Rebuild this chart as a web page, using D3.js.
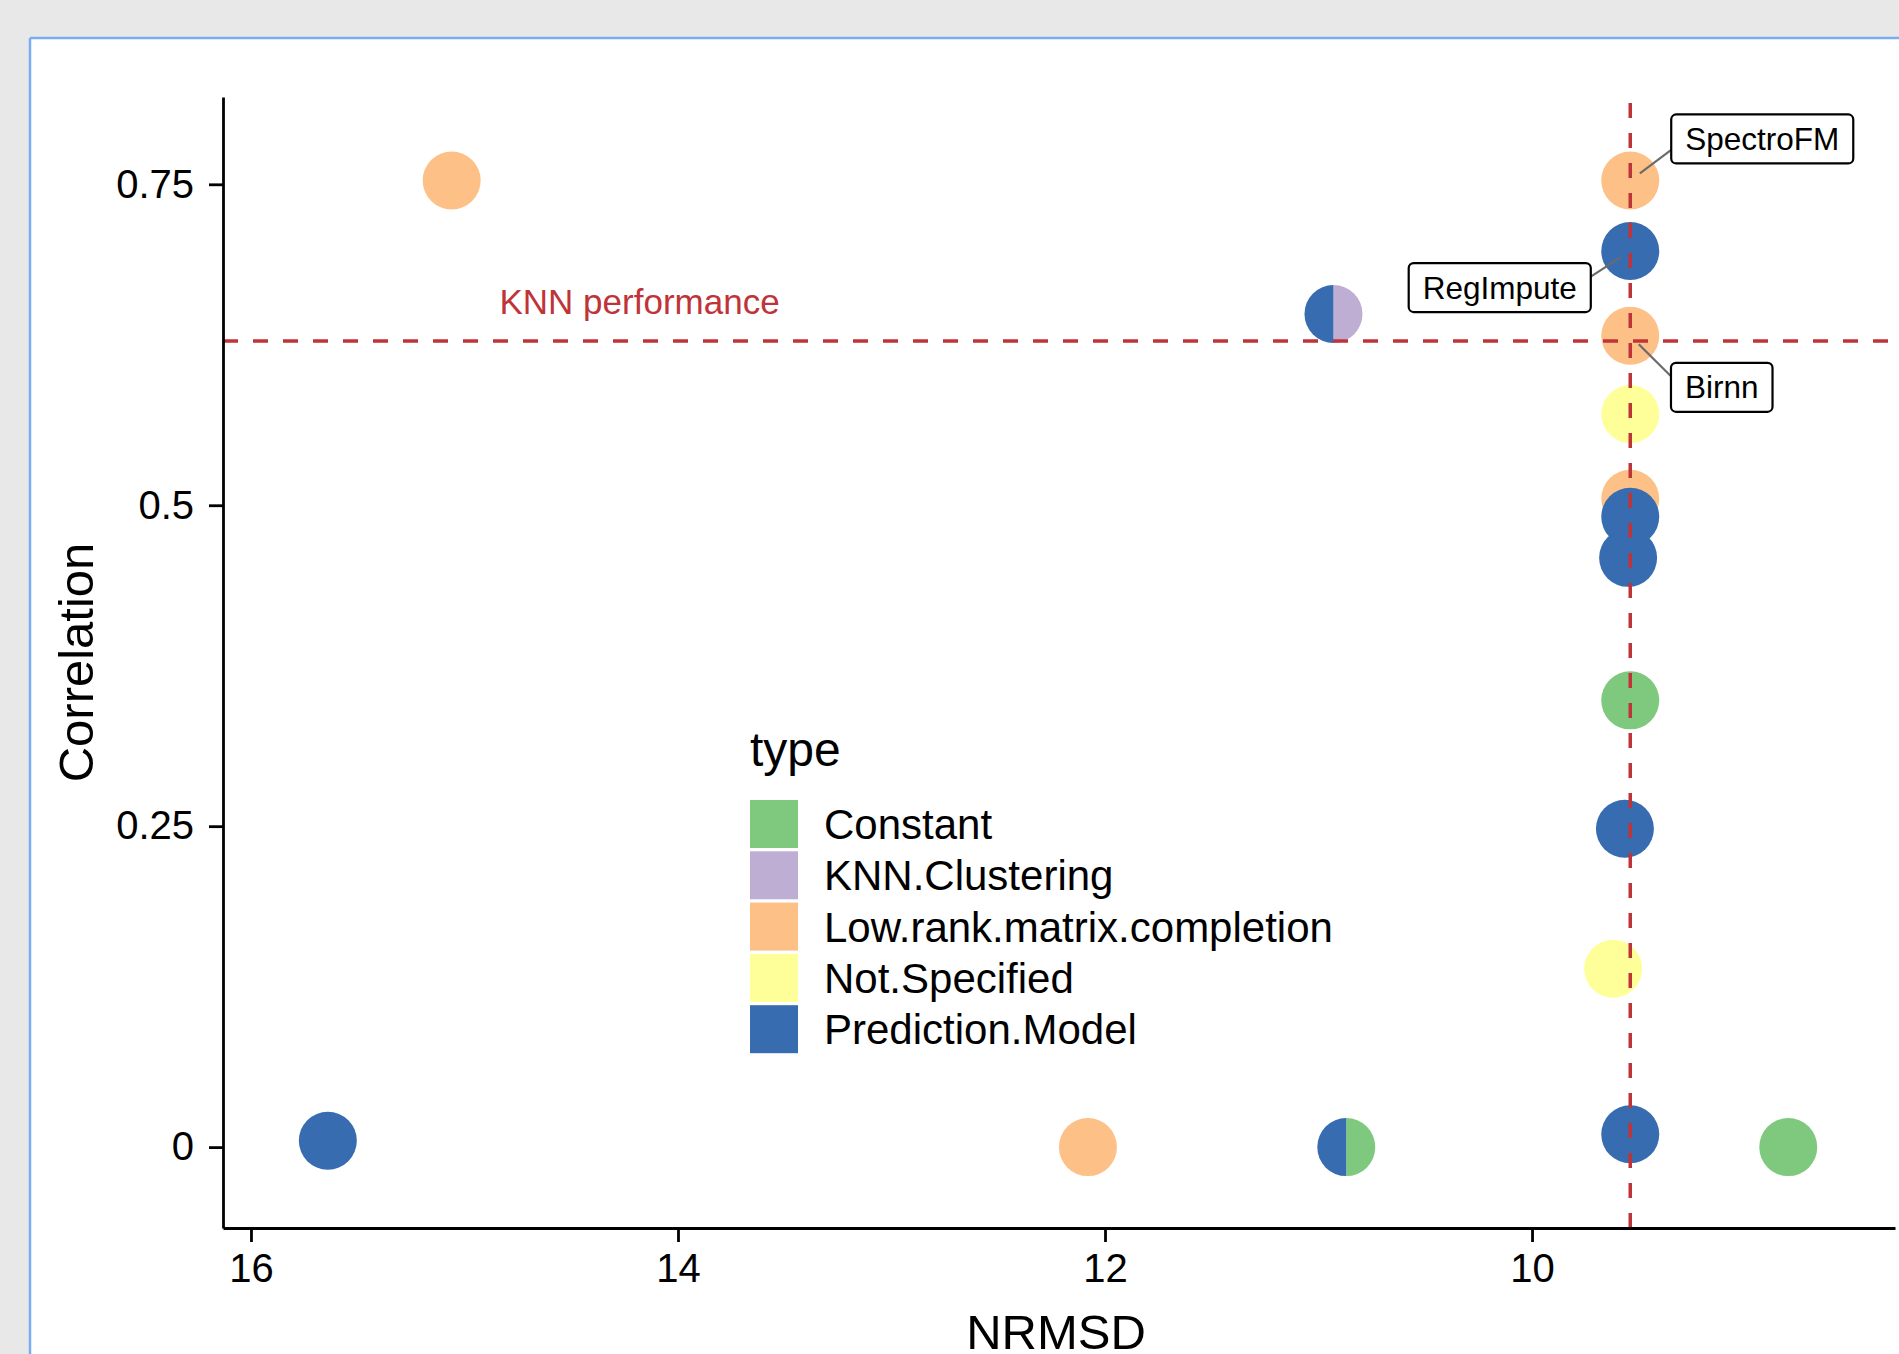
<!DOCTYPE html>
<html>
<head>
<meta charset="utf-8">
<script src="https://cdn.jsdelivr.net/npm/d3@7"></script>
<style>
  body { margin: 0; background: #e8e8e8; }
  svg { display: block; font-family: "Liberation Sans", Arial, Helvetica, sans-serif; }
</style>
</head>
<body>
<svg id="chart" width="1899" height="1354"></svg>
<script>
// Method categories and their Accent palette colours
const typeNames = ["Constant", "KNN.Clustering", "Low.rank.matrix.completion", "Not.Specified", "Prediction.Model"];
const typeColors = ["#7FC97F", "#BEAED4", "#FDC086", "#FFFF99", "#386CB0"];

// One entry per imputation method
const nrmsd       = [15.06, 9.54, 9.54, 9.54, 9.54, 9.54, 9.54, 9.55, 9.54, 9.565, 9.62, 9.54, 8.80, 10.87, 12.08, 15.64, 10.93];
const correlation = [0.753, 0.753, 0.698, 0.632, 0.571, 0.505, 0.491, 0.459, 0.348, 0.248, 0.139, 0.010, 0.0, 0.0, 0.0, 0.005, 0.649];
const pointTypes  = [
  ["Low.rank.matrix.completion"],
  ["Low.rank.matrix.completion"],
  ["Prediction.Model"],
  ["Low.rank.matrix.completion"],
  ["Not.Specified"],
  ["Low.rank.matrix.completion"],
  ["Prediction.Model"],
  ["Prediction.Model"],
  ["Constant"],
  ["Prediction.Model"],
  ["Not.Specified"],
  ["Prediction.Model"],
  ["Constant"],
  ["Prediction.Model", "Constant"],
  ["Low.rank.matrix.completion"],
  ["Prediction.Model"],
  ["Prediction.Model", "KNN.Clustering"]
];
const methodLabels = ["", "SpectroFM", "RegImpute", "Birnn", "", "", "", "", "", "", "", "", "", "", "", "", ""];

// KNN reference performance
const knnNrmsd = 9.54;
const knnCorrelation = 0.628;
const knnText = "KNN performance";
const knnTextPos = [14.18, 0.649];

// Axis ticks
const xTickValues = [16, 14, 12, 10];
const yTickValues = [0, 0.25, 0.5, 0.75];
const yTickLabels = ["0", "0.25", "0.5", "0.75"];

// ---------------------------------------------------------------------------
const svg = d3.select("#chart");
const W = 1899, H = 1354;
const color = d3.scaleOrdinal().domain(typeNames).range(typeColors);

// White panel with a light blue frame on top/left
svg.append("rect").attr("x", 30).attr("y", 38).attr("width", W - 30).attr("height", H - 38).attr("fill", "#ffffff");
svg.append("line").attr("x1", 30).attr("x2", W).attr("y1", 38).attr("y2", 38).attr("stroke", "#79acf2").attr("stroke-width", 2.5);
svg.append("line").attr("x1", 30).attr("x2", 30).attr("y1", 38).attr("y2", H).attr("stroke", "#79acf2").attr("stroke-width", 2.5);

const plot = { left: 223, right: 1895, top: 97, bottom: 1228 };

const x = d3.scaleLinear().domain([16.131, 8.30]).range([plot.left, plot.right]);
const y = d3.scaleLinear().domain([-0.063, 0.818]).range([plot.bottom, plot.top]);

const R = 29;

// Points (pie glyphs where a method belongs to two categories)
const pts = svg.append("g");
const arc = d3.arc().innerRadius(0).outerRadius(R);
nrmsd.forEach((v, i) => {
  const cx = x(v), cy = y(correlation[i]);
  const t = pointTypes[i];
  if (t.length === 1) {
    pts.append("circle").attr("cx", cx).attr("cy", cy).attr("r", R).attr("fill", color(t[0]));
  } else {
    // first type on the left half, second on the right half
    const slices = d3.pie().sort(null).value(1)(t.slice().reverse());
    const g = pts.append("g").attr("transform", `translate(${cx},${cy})`);
    g.selectAll("path").data(slices).join("path")
      .attr("d", arc)
      .attr("fill", d => color(d.data));
  }
});

// KNN reference lines
const red = "#BF3438";
svg.append("line")
  .attr("x1", plot.left).attr("x2", plot.right)
  .attr("y1", y(knnCorrelation)).attr("y2", y(knnCorrelation))
  .attr("stroke", red).attr("stroke-width", 3.5).attr("stroke-dasharray", "15,15");
svg.append("line")
  .attr("x1", x(knnNrmsd)).attr("x2", x(knnNrmsd))
  .attr("y1", plot.bottom).attr("y2", plot.top)
  .attr("stroke", red).attr("stroke-width", 3.5).attr("stroke-dasharray", "15,15");
svg.append("text")
  .attr("x", x(knnTextPos[0])).attr("y", y(knnTextPos[1]))
  .attr("text-anchor", "middle")
  .attr("font-size", 35)
  .attr("fill", red)
  .text(knnText);

// Axes
const yAxis = svg.append("g")
  .attr("transform", `translate(${plot.left},0)`)
  .call(d3.axisLeft(y).tickValues(yTickValues).tickFormat((d, i) => yTickLabels[i]).tickSize(14).tickPadding(15).tickSizeOuter(0));
const xAxis = svg.append("g")
  .attr("transform", `translate(0,${plot.bottom})`)
  .call(d3.axisBottom(x).tickValues(xTickValues).tickFormat(d3.format("d")).tickSize(14).tickPadding(12).tickSizeOuter(0));
[yAxis, xAxis].forEach(a => {
  a.attr("font-family", null).attr("font-size", 40);
  a.select(".domain").attr("stroke", "#000").attr("stroke-width", 2.8);
  a.selectAll(".tick line").attr("stroke", "#000").attr("stroke-width", 2.8);
  a.selectAll(".tick text").attr("fill", "#000");
});

// Axis titles
svg.append("text")
  .attr("x", 1056).attr("y", 1349)
  .attr("text-anchor", "middle").attr("font-size", 49).attr("fill", "#000")
  .text("NRMSD");
svg.append("text")
  .attr("transform", `translate(93,${(plot.top + plot.bottom) / 2}) rotate(-90)`)
  .attr("text-anchor", "middle").attr("font-size", 49).attr("fill", "#000")
  .text("Correlation");

// Legend
const legend = svg.append("g").attr("transform", "translate(750,0)");
legend.append("text").attr("x", 0).attr("y", 766).attr("font-size", 48).attr("fill", "#000").text("type");
typeNames.forEach((name, i) => {
  const top = 800 + i * 51.3;
  legend.append("rect").attr("x", 0).attr("y", top).attr("width", 48).attr("height", 48).attr("fill", color(name));
  legend.append("text").attr("x", 74).attr("y", top + 24 + 15).attr("font-size", 42).attr("fill", "#000").text(name);
});

// Repelled method labels
const labelNudge = {
  "SpectroFM": [132, -41.5],
  "RegImpute": [-130.5, 36.5],
  "Birnn": [91.5, 51.5]
};
const labels = svg.append("g");
methodLabels.forEach((lab, i) => {
  if (!lab) return;
  const px = x(nrmsd[i]), py = y(correlation[i]);
  const [dx, dy] = labelNudge[lab];
  const cx = px + dx, cy = py + dy;
  const g = labels.append("g");
  const txt = g.append("text")
    .attr("x", cx).attr("y", cy + 11)
    .attr("text-anchor", "middle").attr("font-size", 31.5).attr("fill", "#000")
    .text(lab);
  const tw = txt.node().getComputedTextLength();
  const bw = tw + 28, bh = 49;
  const bx = cx - bw / 2, by = cy - bh / 2;
  // connector from point to the facing side of the box
  const ex = dx > 0 ? bx : bx + bw;
  const ey = cy + Math.sign(py - cy) * 11;
  const len = Math.hypot(ex - px, ey - py);
  const sx = px + (ex - px) * 12 / len, sy = py + (ey - py) * 12 / len;
  g.insert("line", "text")
    .attr("x1", sx).attr("y1", sy).attr("x2", ex).attr("y2", ey)
    .attr("stroke", "#6b6b6b").attr("stroke-width", 2.2);
  g.insert("rect", "text")
    .attr("x", bx).attr("y", by).attr("width", bw).attr("height", bh)
    .attr("rx", 5).attr("ry", 5)
    .attr("fill", "#fff").attr("stroke", "#000").attr("stroke-width", 2.2);
});
</script>
</body>
</html>
